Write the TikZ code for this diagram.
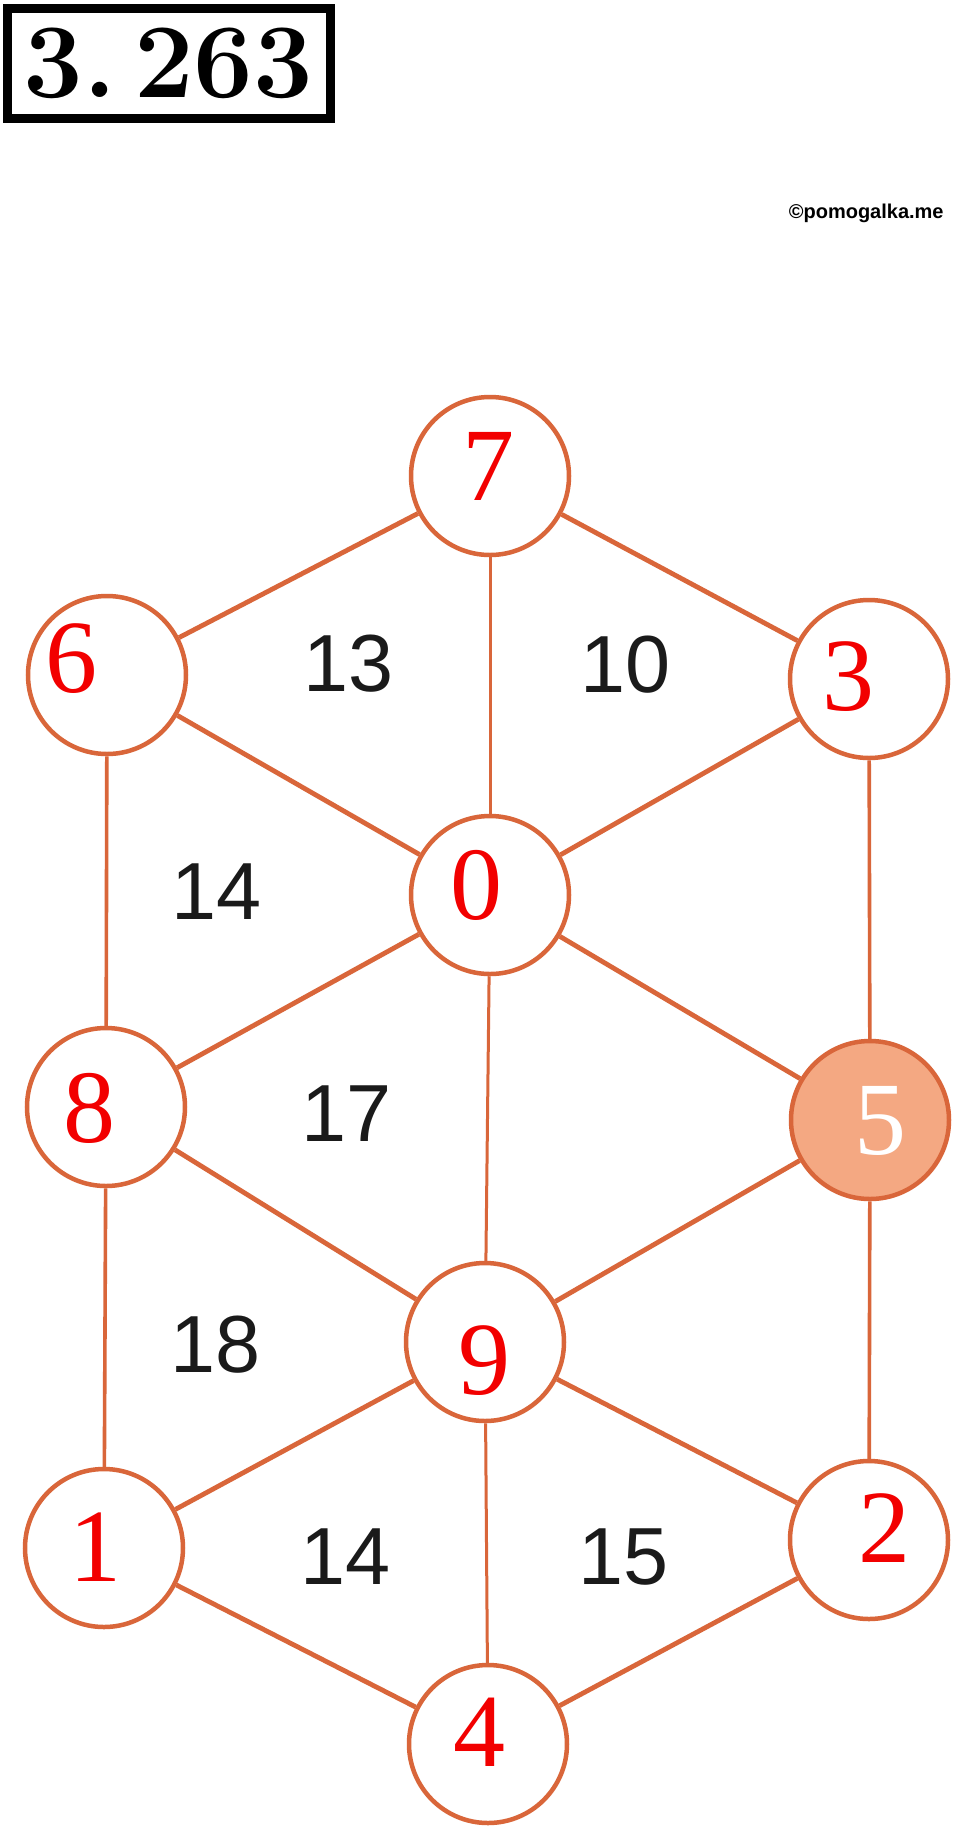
\documentclass[tikz,border=0pt]{standalone}
\usepackage{fontspec}
\newfontfamily\digitfont{Liberation Serif}
\newfontfamily\labelfont{Liberation Sans}
\definecolor{edge}{HTML}{D9663A}
\definecolor{fillfive}{HTML}{F4A882}
\definecolor{digred}{HTML}{F20000}
\definecolor{numgray}{HTML}{1A1A1A}
\begin{document}
\begin{tikzpicture}[x=0.5pt,y=-0.5pt,
  vert/.style={circle, draw=edge, line width=2.25pt, fill=white, minimum size=79pt, inner sep=0pt},
  diag/.style={draw=edge, line width=2.4pt},
  side/.style={draw=edge, line width=1.8pt},
  mid/.style={draw=edge, line width=1.5pt},
  dig/.style={font=\digitfont\fontsize{52}{52}\selectfont, text=digred, inner sep=0pt},
  num/.style={font=\labelfont\fontsize{40.5}{40.5}\selectfont, text=numgray, inner sep=0pt}]
\useasboundingbox (0,0) rectangle (960,1832);
\fill[white] (0,0) rectangle (960,1832);

% title
\draw[line width=4.5pt, black] (7.5,8.5) rectangle (330.5,118.5);
\node[font=\bfseries\fontsize{53}{53}\selectfont, inner sep=0pt] (title) at (168.5,63.5) {3.\,263};
\node[font=\labelfont\bfseries\fontsize{10}{10}\selectfont, anchor=base east, inner sep=0pt] (wm) at (944,218) {\textcopyright pomogalka.me};

% vertices
\node[vert] (n7) at (490,476) {};
\node[vert] (n6) at (107,675) {};
\node[vert] (n3) at (869,679) {};
\node[vert] (n0) at (490,895) {};
\node[vert] (n8) at (106,1107) {};
\node[vert, fill=fillfive] (n5) at (870,1120) {};
\node[vert] (n9) at (485,1342) {};
\node[vert] (n1) at (104,1548) {};
\node[vert] (n2) at (869,1540) {};
\node[vert] (n4) at (488,1744) {};

% digits
\node[dig] (d7) at (488,466) {7};
\node[dig] (d6) at (72,659) {6};
\node[dig] (d3) at (848,677) {3};
\node[dig] (d0) at (476,885) {0};
\node[dig] (d8) at (89,1108) {8};
\node[dig, text=white] (d5) at (880,1121) {5};
\node[dig] (d9) at (484,1361) {9};
\node[dig] (d1) at (95,1547) {1};
\node[dig] (d2) at (884,1528) {2};
\node[dig] (d4) at (479,1732) {4};

% edges
\draw[diag] (n7) -- (n6);
\draw[diag] (n7) -- (n3);
\draw[mid] (n7) -- (n0);
\draw[diag] (n6) -- (n0);
\draw[diag] (n3) -- (n0);
\draw[side] (n6) -- (n8);
\draw[side] (n3) -- (n5);
\draw[diag] (n0) -- (n8);
\draw[diag] (n0) -- (n5);
\draw[mid] (n0) -- (n9);
\draw[diag] (n8) -- (n9);
\draw[diag] (n5) -- (n9);
\draw[side] (n8) -- (n1);
\draw[side] (n5) -- (n2);
\draw[diag] (n9) -- (n1);
\draw[diag] (n9) -- (n2);
\draw[mid] (n9) -- (n4);
\draw[diag] (n1) -- (n4);
\draw[diag] (n2) -- (n4);

% face numbers
\node[num] (f13) at (349,664) {13};
\node[num] (f10) at (626,665) {10};
\node[num] (f14a) at (217,892) {14};
\node[num] (f17) at (347,1114) {17};
\node[num] (f18) at (216,1345) {18};
\node[num] (f14b) at (346,1557) {14};
\node[num] (f15) at (624,1557) {15};
\end{tikzpicture}
\end{document}
